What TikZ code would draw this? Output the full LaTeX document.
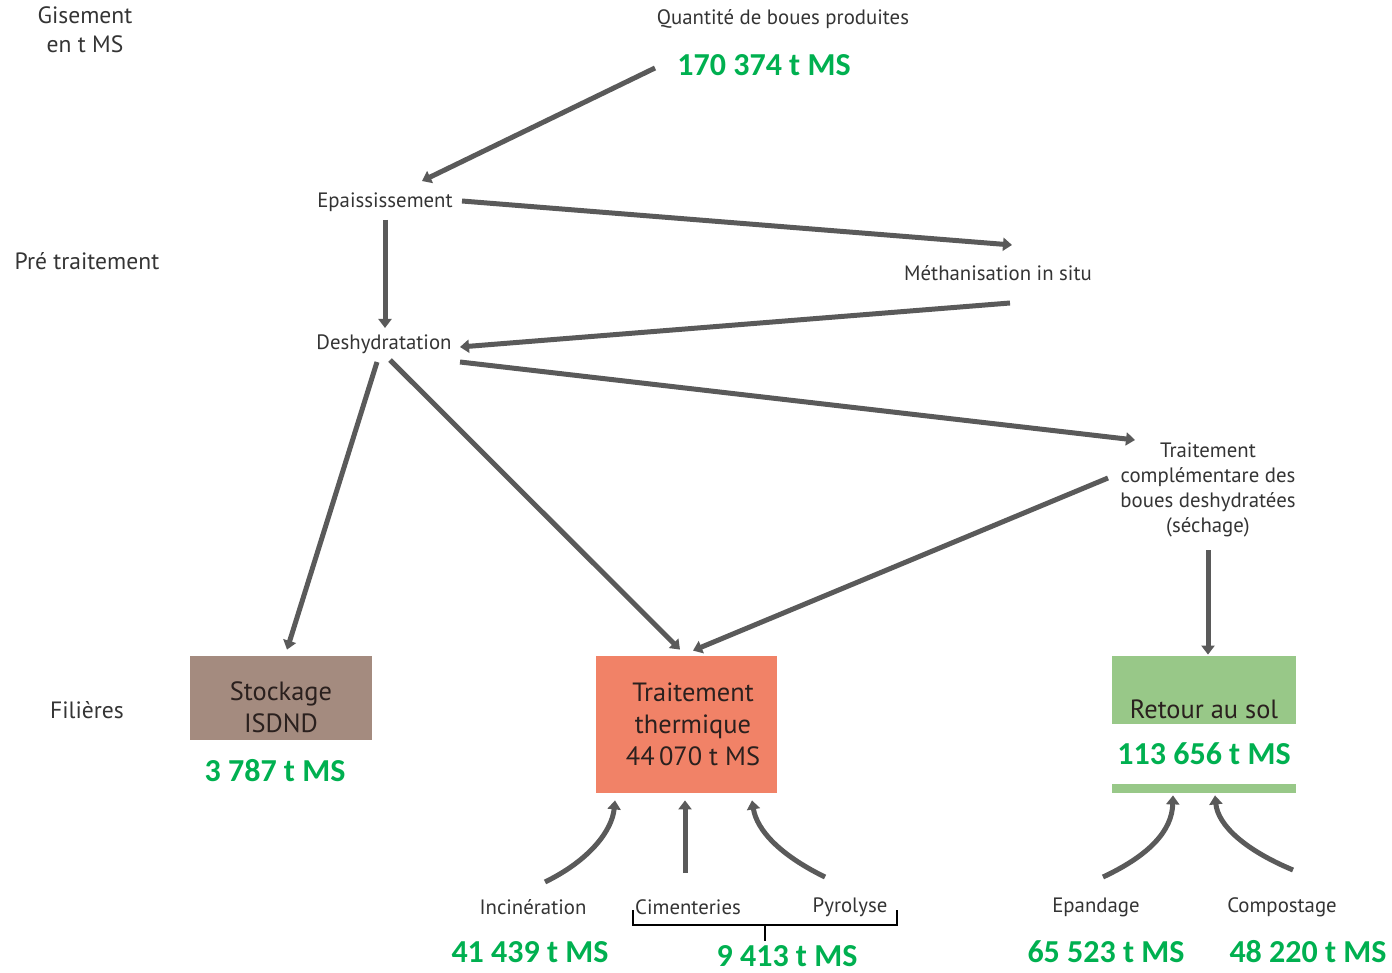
\documentclass[tikz,border=0pt]{standalone}
\usepackage{fontspec}
\setmainfont{PT Sans}
\newfontfamily\numfont{Carlito}
\usetikzlibrary{arrows.meta,calc}
\definecolor{txtgray}{RGB}{52,52,52}
\definecolor{flowgray}{RGB}{90,90,90}
\definecolor{numgreen}{RGB}{0,176,80}
\definecolor{stockfill}{RGB}{164,139,127}
\definecolor{thermfill}{RGB}{241,130,103}
\definecolor{solfill}{RGB}{152,200,136}
\definecolor{boxtext}{RGB}{42,32,30}
\tikzset{
  lbl/.style={text=txtgray,font=\fontsize{10.4}{12.5}\selectfont,align=center,inner sep=0pt},
  side/.style={text=txtgray,font=\fontsize{11.8}{14.5}\selectfont,align=center,inner sep=0pt},
  num/.style={text=numgreen,font=\numfont\bfseries\fontsize{16}{19}\selectfont,inner sep=0pt},
  box/.style={inner sep=0pt,align=center,text=boxtext,font=\fontsize{13.2}{16}\selectfont},
  flow/.style={draw=flowgray,line width=2.5pt,-{Triangle[length=4.5pt,width=6.5pt]}},
  brc/.style={draw=black,line width=0.8pt}
}
\begin{document}
\begin{tikzpicture}[x=0.5pt,y=-0.5pt]
  \useasboundingbox (0,0) rectangle (1392,973);
  % niveaux
  \draw
    (85,30) node[side] (gis){Gisement\\en t MS}
    (87,261) node[side] (pre){Pré traitement}
    (87,710) node[side] (fil){Filières};
  % boites des filieres
  \node[fill=stockfill,minimum width=91pt,minimum height=42pt] (stock) at (281,698) {};
  \node[box] (stocktxt) at (281,707) {Stockage\\ISDND};
  \node[fill=thermfill,minimum width=90.5pt,minimum height=68.5pt] (therm) at (686.5,724.5) {};
  \node[box] (thermtxt) at (693,724) {Traitement\\thermique\\44\,070 t MS};
  \node[fill=solfill,minimum width=92pt,minimum height=68.5pt] (sol) at (1204,724.5) {};
  \node[box] (soltxt) at (1204,709) {Retour au sol};
  \node[num,fill=white,minimum width=92pt,minimum height=30pt] (solv) at (1204,754) {113 656 t MS};
  % etapes
  \draw
    (783,19) node[lbl] (qte){Quantité de boues produites}
    (764,65) node[num] (qtev){170 374 t MS}
    (385,202) node[lbl] (epais){Epaississement}
    (998,273) node[lbl] (methan){Méthanisation in situ}
    (384,344) node[lbl] (deshy){Deshydratation}
    (1208,490) node[lbl] (tcomp){Traitement\\complémentare des\\boues deshydratées\\(séchage)}
    (275,771) node[num] (stockv){3 787 t MS}
    (533,907) node[lbl] (incin){Incinération}
    (688,907) node[lbl] (ciment){Cimenteries}
    (850,907) node[lbl] (pyro){Pyrolyse}
    (1096,907) node[lbl] (epand){Epandage}
    (1282,907) node[lbl] (compost){Compostage}
    (530,952) node[num] (incinv){41 439 t MS}
    (787,956) node[num] (cimentv){9 413 t MS}
    (1106,952) node[num] (epandv){65 523 t MS}
    (1308,952) node[num] (compostv){48 220 t MS};
  % fleches
  \begin{scope}[flow]
    \draw ([shift={(-109,3)}]qtev.center) to ([shift={(37,-21)}]epais.center);
    \draw ([shift={(77,-1)}]epais.center) to ([shift={(14,-28)}]methan.center);
    \draw ([shift={(0,18)}]epais.center) to ([shift={(1,-16)}]deshy.center);
    \draw ([shift={(12,30)}]methan.center) to ([shift={(76,3)}]deshy.center);
    \draw ([shift={(76,18)}]deshy.center) to ([shift={(-73,-50)}]tcomp.center);
    \draw ([shift={(-7,18)}]deshy.center) to ([shift={(6,-6)}]stock.north);
    \draw ([shift={(6,16)}]deshy.center) to ([shift={(-6.5,-6)}]therm.north);
    \draw ([shift={(-100,-12)}]tcomp.center) to ([shift={(6.5,-5)}]therm.north);
    \draw ([shift={(0,60)}]tcomp.center) to ([shift={(4,-1)}]sol.north);
    \draw ([shift={(12,-25)}]incin.center) .. controls +(45,-22) and +(-3,30) .. ([shift={(-71.5,7)}]therm.south);
    \draw ([shift={(-3,-34)}]ciment.center) to ([shift={(-1.5,7)}]therm.south);
    \draw ([shift={(-25,-30)}]pyro.center) .. controls +(-45,-22) and +(5,30) .. ([shift={(65.5,7)}]therm.south);
    \draw ([shift={(7,-30)}]epand.center) .. controls +(47,-22) and +(-1,35) .. ([shift={(-31,2)}]sol.south);
    \draw ([shift={(11,-37)}]compost.center) .. controls +(-48,-20) and +(3,30) .. ([shift={(11,2)}]sol.south);
  \end{scope}
  % accolade
  \coordinate (bl) at ([shift={(-55,3)}]ciment.center);
  \coordinate (br) at ([shift={(47,3)}]pyro.center);
  \draw[brc] (bl) -- ++(0,15) -| (br);
  \draw[brc] ($(bl)!0.5!(br)$) ++(0,15) -- ++(0,16);
\end{tikzpicture}
\end{document}
